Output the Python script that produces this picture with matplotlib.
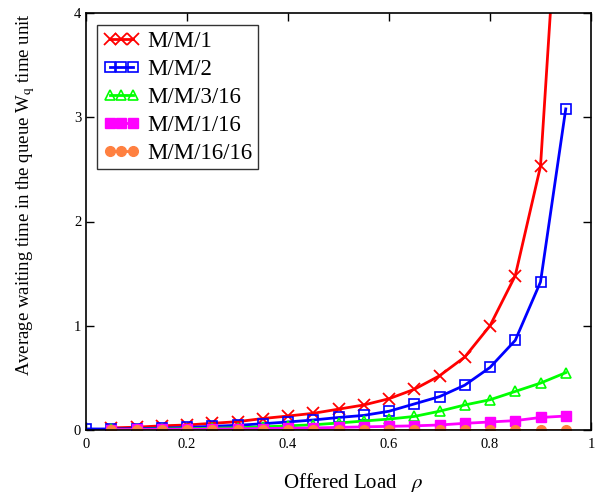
import matplotlib
matplotlib.use("Agg")
import matplotlib.pyplot as plt

plt.rcParams['font.family'] = ['Liberation Serif', 'DejaVu Serif']
plt.rcParams['mathtext.fontset'] = 'stix'

rho = [0.05, 0.10, 0.15, 0.20, 0.25, 0.30, 0.35, 0.40, 0.45, 0.50,
       0.55, 0.60, 0.65, 0.70, 0.75, 0.80, 0.85, 0.90, 0.95]
rho_mm2 = [0.0] + rho

wq_mm1 = [0.02, 0.027, 0.04, 0.048, 0.064, 0.08, 0.11, 0.134, 0.16, 0.20,
          0.24, 0.30, 0.39, 0.52, 0.70, 1.00, 1.48, 2.53, 6.3]
wq_mm2 = [0.01, 0.01, 0.013, 0.018, 0.025, 0.035, 0.045, 0.06, 0.077, 0.096, 0.12,
          0.14, 0.18, 0.25, 0.32, 0.43, 0.60, 0.86, 1.42, 3.08]
wq_mm3_16 = [0.005, 0.007, 0.01, 0.013, 0.017, 0.022, 0.03, 0.04, 0.05, 0.067,
             0.086, 0.105, 0.13, 0.18, 0.24, 0.29, 0.37, 0.45, 0.55]
wq_mm1_16 = [0.004, 0.005, 0.006, 0.007, 0.009, 0.011, 0.014, 0.017, 0.02, 0.025,
             0.03, 0.035, 0.04, 0.048, 0.064, 0.077, 0.09, 0.12, 0.134]
wq_mm16_16 = [0.0] * 19

xticks = [0, 0.2, 0.4, 0.6, 0.8, 1]
xticklabels = ['0', '0.2', '0.4', '0.6', '0.8', '1']
yticks = [0, 1, 2, 3, 4]

fig = plt.figure(figsize=(6.03, 4.96), dpi=100)
ax = fig.add_axes([86 / 603, 1 - 430 / 496, 505 / 603, 417 / 496])

lw = 2.0
ms = 7
ax.plot(rho, wq_mm1, color='#FF0000', lw=lw, marker='x', ms=8, mew=1.3, label='M/M/1')
ax.plot(rho_mm2, wq_mm2, color='#0000FF', lw=lw, marker='s', ms=ms, mfc='none', mew=1.2, label='M/M/2')
ax.plot(rho, wq_mm3_16, color='#00FF00', lw=lw, marker='^', ms=ms, mfc='none', mew=1.2, label='M/M/3/16')
ax.plot(rho, wq_mm1_16, color='#FF00FF', lw=lw, marker='s', ms=ms, label='M/M/1/16')
ax.plot(rho, wq_mm16_16, color='#FF8040', lw=lw, marker='o', ms=ms, label='M/M/16/16')

ax.set_xlim(0, 1)
ax.set_ylim(0, 4)
ax.set_xticks(xticks)
ax.set_xticklabels(xticklabels)
ax.set_yticks(yticks)
ax.tick_params(direction='in', length=6, width=1, top=True, right=True, labelsize=10.5)
ax.tick_params(axis='x', pad=6)
for s in ax.spines.values():
    s.set_linewidth(1.2)

ax.set_xlabel(r'Offered Load $\ \ \rho$', fontsize=15)
ax.xaxis.set_label_coords((353 - 86) / 505, -0.098)
ax.set_ylabel(r'Average waiting time in the queue W$_\mathrm{q}$ time unit', fontsize=13.5)
ax.yaxis.set_label_coords(-0.097, 0.5635)

leg = ax.legend(loc='upper left', bbox_to_anchor=(0.0218, 0.971), numpoints=3, handlelength=1.6,
                fontsize=16.5, frameon=True, fancybox=False, edgecolor='black',
                borderpad=0.25, labelspacing=0.3, handletextpad=0.35, borderaxespad=0)
leg.get_frame().set_linewidth(1.0)

fig.savefig('out.png', dpi=100)
